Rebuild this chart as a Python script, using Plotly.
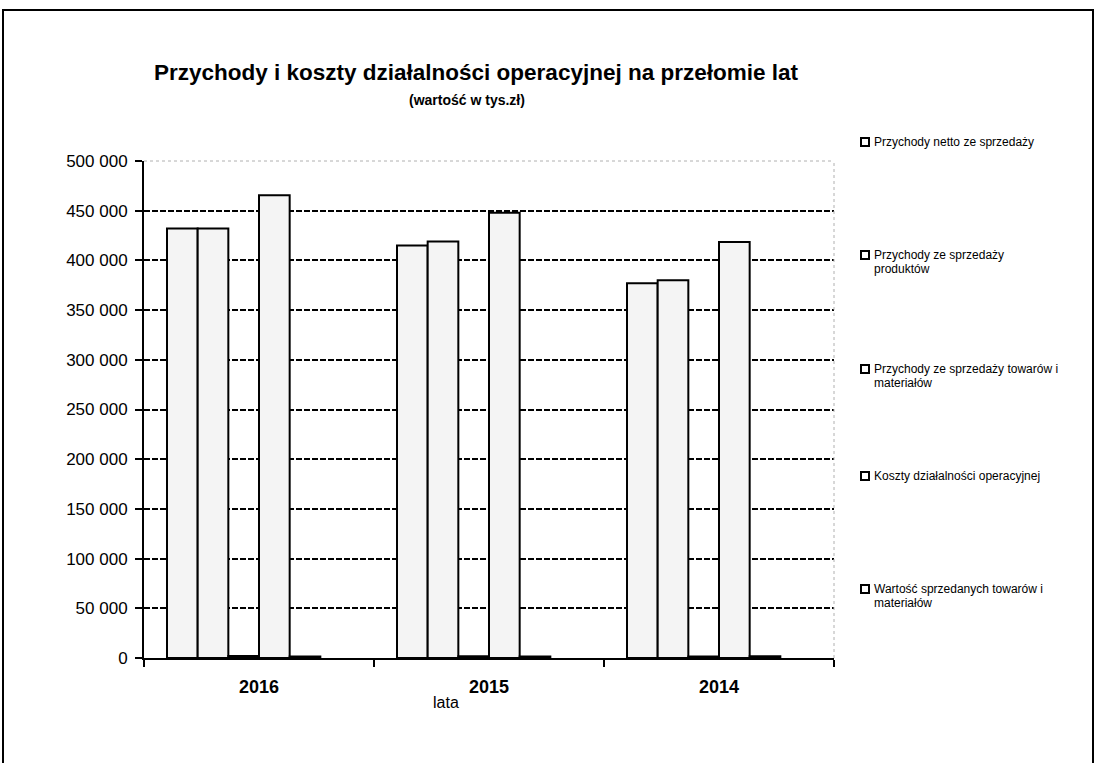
import plotly.graph_objects as go

# Data (tys. zł)
years = ["2016", "2015", "2014"]
series_names = [
    "Przychody netto ze sprzedaży",
    "Przychody ze sprzedaży produktów",
    "Przychody ze sprzedaży towarów i materiałów",
    "Koszty działalności operacyjnej",
    "Wartość sprzedanych towarów i materiałów",
]
legend_lines = [
    ["Przychody netto ze sprzedaży"],
    ["Przychody ze sprzedaży", "produktów"],
    ["Przychody ze sprzedaży towarów i", "materiałów"],
    ["Koszty działalności operacyjnej"],
    ["Wartość sprzedanych towarów i", "materiałów"],
]
przychody_netto = [432000, 415000, 377000]
przychody_produkty = [432000, 419000, 380000]
przychody_towary = [1900, 1700, 1500]
koszty = [465500, 448000, 418500]
wartosc_towarow = [1600, 1400, 1800]
values = [przychody_netto, przychody_produkty, przychody_towary, koszty, wartosc_towarow]

y_ticks = list(range(0, 500001, 50000))
y_ticktext = ["0" if v == 0 else f"{v // 1000} 000" for v in y_ticks]

W, H = 1097, 763
L, R, T, B = 144, 834, 161, 658  # plot area in pixels


def px(x):
    return (x - L) / (R - L)


def py(y):
    return (B - y) / (B - T)


FONT = "Liberation Sans, Arial, sans-serif"

fig = go.Figure()

# Six slots per category (Excel-style 150% gap), five series used
slots = 6
bar_w = 1.0 / (slots + 1.5)
start = -0.5 + 0.75 * bar_w
for i, (name, vals) in enumerate(zip(series_names, values)):
    fig.add_trace(go.Bar(
        x=years, y=vals, name=name,
        width=bar_w, offset=start + i * bar_w,
        marker=dict(color="#f4f4f4", line=dict(color="black", width=2)),
        showlegend=False,
    ))

fig.update_layout(
    width=W, height=H,
    margin=dict(l=L, r=W - R, t=T, b=H - B, autoexpand=False),
    paper_bgcolor="white", plot_bgcolor="white",
    barmode="overlay",
    font=dict(family=FONT, color="black"),
    xaxis=dict(
        type="category", showline=True, linecolor="black", linewidth=2,
        ticks="outside", tickson="boundaries", ticklen=7, tickwidth=2, tickcolor="black",
        tickfont=dict(size=18, family=FONT, weight="bold"),
        ticklabelstandoff=11, showgrid=False,
    ),
    yaxis=dict(
        range=[0, 500000], tickvals=y_ticks, ticktext=y_ticktext,
        showline=True, linecolor="black", linewidth=2,
        ticks="outside", ticklen=7, tickwidth=2, tickcolor="black",
        tickfont=dict(size=17, family=FONT),
        ticklabelstandoff=4,
        showgrid=True, gridcolor="black", gridwidth=2, griddash="6px,2px",
        zeroline=False,
    ),
)

shapes = []
# plot-area border (top and right), light grey dotted
shapes.append(dict(type="line", xref="paper", yref="paper", x0=0, x1=1, y0=1, y1=1,
                   line=dict(color="white", width=4), layer="above"))
shapes.append(dict(type="line", xref="paper", yref="paper", x0=0, x1=1, y0=1, y1=1,
                   line=dict(color="#b0b0b0", width=1, dash="dot"), layer="above"))
shapes.append(dict(type="line", xref="paper", yref="paper", x0=1, x1=1, y0=0, y1=1,
                   line=dict(color="#b0b0b0", width=1, dash="dot"), layer="above"))
# outer chart frame
shapes.append(dict(type="rect", xref="paper", yref="paper",
                   x0=px(3), x1=px(1093), y0=py(10), y1=py(780),
                   line=dict(color="black", width=2), fillcolor="rgba(0,0,0,0)"))

annotations = [
    dict(text="<b>Przychody i koszty działalności operacyjnej na przełomie lat</b>",
         x=px(476), y=py(72), xref="paper", yref="paper", showarrow=False,
         font=dict(size=22.5, family=FONT), xanchor="center", yanchor="middle"),
    dict(text="<b>(wartość w tys.zł)</b>",
         x=px(467), y=py(100), xref="paper", yref="paper", showarrow=False,
         font=dict(size=14, family=FONT), xanchor="center", yanchor="middle"),
    dict(text="lata", x=px(446), y=py(702), xref="paper", yref="paper", showarrow=False,
         font=dict(size=16, family=FONT), xanchor="center", yanchor="middle"),
]

# legend column
legend_y = [142, 255, 369, 476, 589]
for lines, ly in zip(legend_lines, legend_y):
    shapes.append(dict(type="rect", xref="paper", yref="paper",
                       x0=px(861), x1=px(869), y0=py(ly - 4), y1=py(ly + 4),
                       line=dict(color="black", width=2), fillcolor="white"))
    for k, line in enumerate(lines):
        annotations.append(dict(text=line, x=px(872), y=py(ly + 14 * k), xref="paper", yref="paper",
                                showarrow=False, align="left", xanchor="left", yanchor="middle",
                                font=dict(size=12, family=FONT)))

fig.update_layout(shapes=shapes, annotations=annotations)

fig.write_html("out.html")
